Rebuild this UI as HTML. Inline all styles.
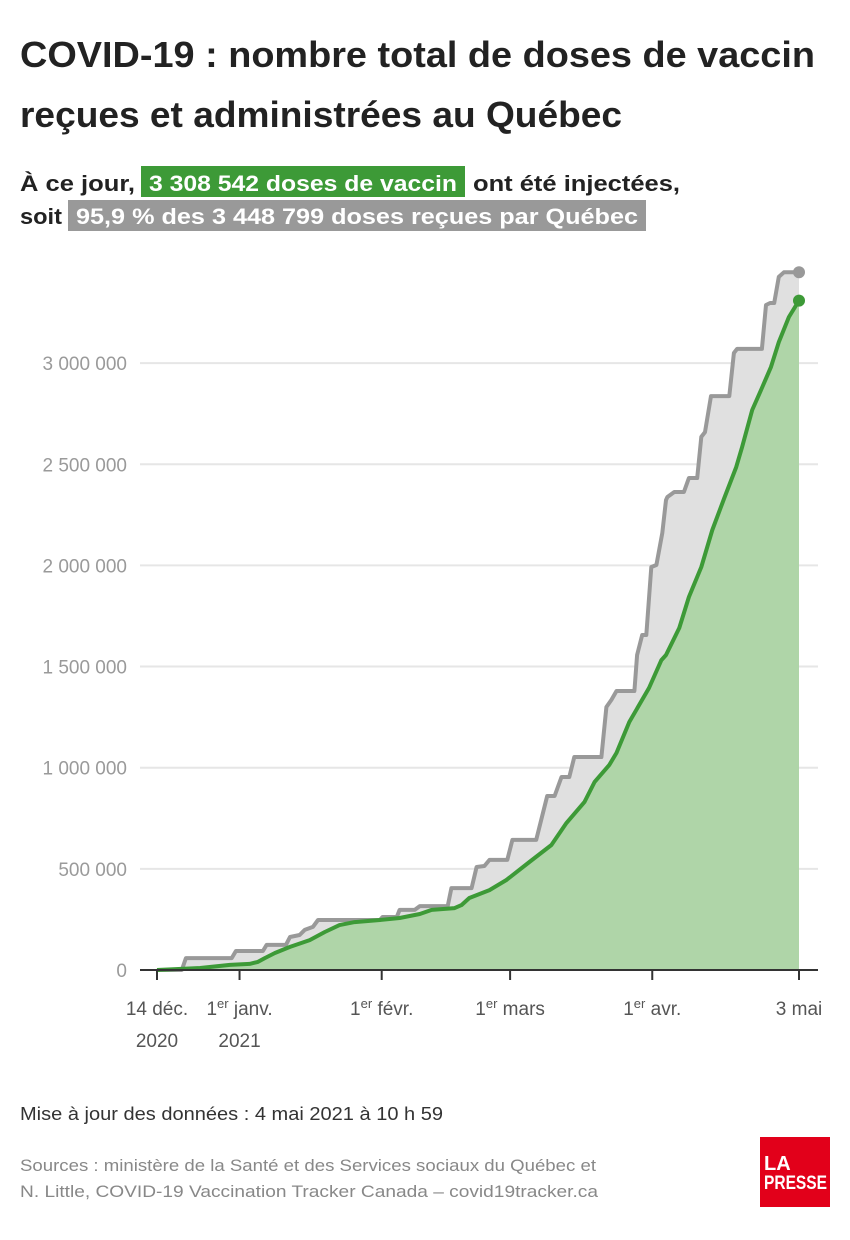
<!DOCTYPE html>
<html><head><meta charset="utf-8"><style>
html,body{margin:0;padding:0;background:#fff;}
svg{display:block;font-family:"Liberation Sans",sans-serif;}
</style></head><body>
<svg id="chart" width="850" height="1240" viewBox="0 0 850 1240" xmlns="http://www.w3.org/2000/svg">
<text x="20" y="67" font-size="36" font-weight="bold" fill="#222" textLength="795" lengthAdjust="spacingAndGlyphs">COVID-19 : nombre total de doses de vaccin</text>
<text x="20" y="127" font-size="36" font-weight="bold" fill="#222" textLength="602" lengthAdjust="spacingAndGlyphs">reçues et administrées au Québec</text>
<text x="20" y="191" font-size="22" font-weight="bold" fill="#222" textLength="115" lengthAdjust="spacingAndGlyphs">À ce jour,</text>
<rect x="141" y="166" width="324" height="31" fill="#3d9a37"/>
<text x="149" y="191" font-size="22" font-weight="bold" fill="#fff" textLength="308" lengthAdjust="spacingAndGlyphs">3 308 542 doses de vaccin</text>
<text x="473" y="191" font-size="22" font-weight="bold" fill="#222" textLength="207" lengthAdjust="spacingAndGlyphs">ont été injectées,</text>
<text x="20" y="224" font-size="22" font-weight="bold" fill="#222" textLength="42" lengthAdjust="spacingAndGlyphs">soit</text>
<rect x="68" y="200" width="578" height="31" fill="#999"/>
<text x="76" y="224" font-size="22" font-weight="bold" fill="#fff" textLength="562" lengthAdjust="spacingAndGlyphs">95,9 % des 3 448 799 doses reçues par Québec</text>
<g id="grid"></g>
<g id="areas"></g>
<g id="axis"></g>
<text x="20" y="1120" font-size="18" fill="#333" textLength="423" lengthAdjust="spacingAndGlyphs">Mise à jour des données : 4 mai 2021 à 10 h 59</text>
<text x="20" y="1171" font-size="17" fill="#888" textLength="576" lengthAdjust="spacingAndGlyphs">Sources : ministère de la Santé et des Services sociaux du Québec et</text>
<text x="20" y="1197" font-size="17" fill="#888" textLength="578" lengthAdjust="spacingAndGlyphs">N. Little, COVID-19 Vaccination Tracker Canada – covid19tracker.ca</text>
<rect x="760" y="1137" width="70" height="70" fill="#e2001a"/>
<text x="764" y="1170" font-size="20" font-weight="bold" fill="#fff">LA</text>
<text x="764" y="1189" font-size="19" font-weight="bold" fill="#fff" textLength="63" lengthAdjust="spacingAndGlyphs">PRESSE</text>
</svg>
<script>
const receivedDays=[0,5.4,6.3,16.3,17.2,23.1,23.9,28.1,29.0,31.1,32.2,34.0,35.1,48.6,49.2,52.3,52.9,56.2,57.3,63.4,64.2,68.6,69.7,71.4,72.5,76.4,77.5,82.7,85.1,86.7,88.2,89.9,91.0,96.9,98.0,99.1,100.2,104.1,104.7,105.8,106.7,107.8,108.9,110.2,111.0,111.3,112.8,114.9,116.0,117.8,118.7,119.5,120.8,124.8,125.8,126.5,131.9,132.8,133.7,134.6,135.6,136.7,140];
const receivedValues=[0,0,59,59,94,94,124,124,163,173,198,213,247,247,262,262,297,297,316,316,405,405,509,514,544,544,643,643,860,860,954,954,1053,1053,1300,1335,1379,1379,1557,1656,1656,1992,2002,2160,2323,2338,2363,2363,2432,2432,2635,2659,2837,2837,3050,3070,3070,3287,3297,3297,3426,3449,3449];
const adminDays=[0,9.4,15.9,20.2,22.0,23.5,25.7,29.0,33.3,36.6,39.8,43.1,48.6,52.9,57.3,59.9,64.9,66.4,68.1,72.5,76.2,81.2,86.0,89.3,93.2,95.4,98.6,100.2,103.0,107.3,110.0,111.0,113.9,116.0,118.7,121.1,123.7,126.3,127.6,129.8,131.9,133.9,135.6,137.8,140];
const adminValues=[0,10,25,30,40,59,84,114,148,188,222,237,247,257,277,297,306,321,356,395,445,534,618,727,830,929,1013,1073,1226,1394,1532,1557,1691,1844,1992,2175,2333,2486,2585,2768,2877,2981,3104,3228,3309];
const yTicks=[0,500,1000,1500,2000,2500,3000];
const yTickLabels=["0","500 000","1 000 000","1 500 000","2 000 000","2 500 000","3 000 000"];
const xTickDays=[0,18,49,77,108,140];
const xTickLabels=[["14 déc.","2020"],["1er janv.","2021"],["1er févr.",""],["1er mars",""],["1er avr.",""],["3 mai",""]];

const NS="http://www.w3.org/2000/svg";
const X=d=>157+d*(642/140);
const Y=v=>970-v*0.2023;
function mk(tag,attrs,parent){const e=document.createElementNS(NS,tag);for(const k in attrs)e.setAttribute(k,attrs[k]);parent.appendChild(e);return e;}
const grid=document.getElementById('grid'),areas=document.getElementById('areas'),axis=document.getElementById('axis');
yTicks.forEach((t,i)=>{
  if(i>0){const l=mk('line',{x1:140,x2:818,y1:Y(t),y2:Y(t),stroke:'#e6e6e6','stroke-width':2},grid);
  
  }
  const tx=mk('text',{x:127,y:Y(t)+7,'text-anchor':'end','font-size':19,fill:'#9a9a9a'},grid);
  tx.textContent=yTickLabels[i];
  
  
});
function pts(ds,vs){return ds.map((d,i)=>X(d).toFixed(1)+','+Y(vs[i]).toFixed(1)).join(' ');}
const last=receivedDays.length-1,lastA=adminDays.length-1;
const ra=mk('polygon',{points:pts(receivedDays,receivedValues)+' '+X(140)+','+Y(0)+' '+X(0)+','+Y(0),fill:'#e0e0e0'},areas);


const aa=mk('polygon',{points:pts(adminDays,adminValues)+' '+X(140)+','+Y(0)+' '+X(0)+','+Y(0),fill:'#afd5a8'},areas);


const rl=mk('polyline',{points:pts(receivedDays,receivedValues),fill:'none',stroke:'#999','stroke-width':4,'stroke-linejoin':'round'},areas);


const al=mk('polyline',{points:pts(adminDays,adminValues),fill:'none',stroke:'#3d9a37','stroke-width':4,'stroke-linejoin':'round'},areas);


const rd=mk('circle',{cx:X(receivedDays[last]),cy:Y(receivedValues[last]),r:6,fill:'#999'},areas);


const ad=mk('circle',{cx:X(adminDays[lastA]),cy:Y(adminValues[lastA]),r:6,fill:'#3d9a37'},areas);


const ax=mk('line',{x1:140,x2:818,y1:970,y2:970,stroke:'#333','stroke-width':2},axis);


xTickDays.forEach((d,i)=>{
  const tk=mk('line',{x1:X(d),x2:X(d),y1:970,y2:980,stroke:'#333','stroke-width':2},axis);
  
  
  const t=mk('text',{x:X(d),y:1015,'text-anchor':'middle','font-size':19,fill:'#555'},axis);
  const lab=xTickLabels[i][0];
  if(lab.startsWith('1er')){t.innerHTML='1<tspan dy="-7" font-size="13">er</tspan><tspan dy="7"> '+lab.slice(4)+'</tspan>';}
  else t.textContent=lab;
  
  
  if(xTickLabels[i][1]){
    const t2=mk('text',{x:X(d),y:1047,'text-anchor':'middle','font-size':19,fill:'#555'},axis);
    t2.textContent=xTickLabels[i][1];
    
    
  }
});
</script>
</body></html>
